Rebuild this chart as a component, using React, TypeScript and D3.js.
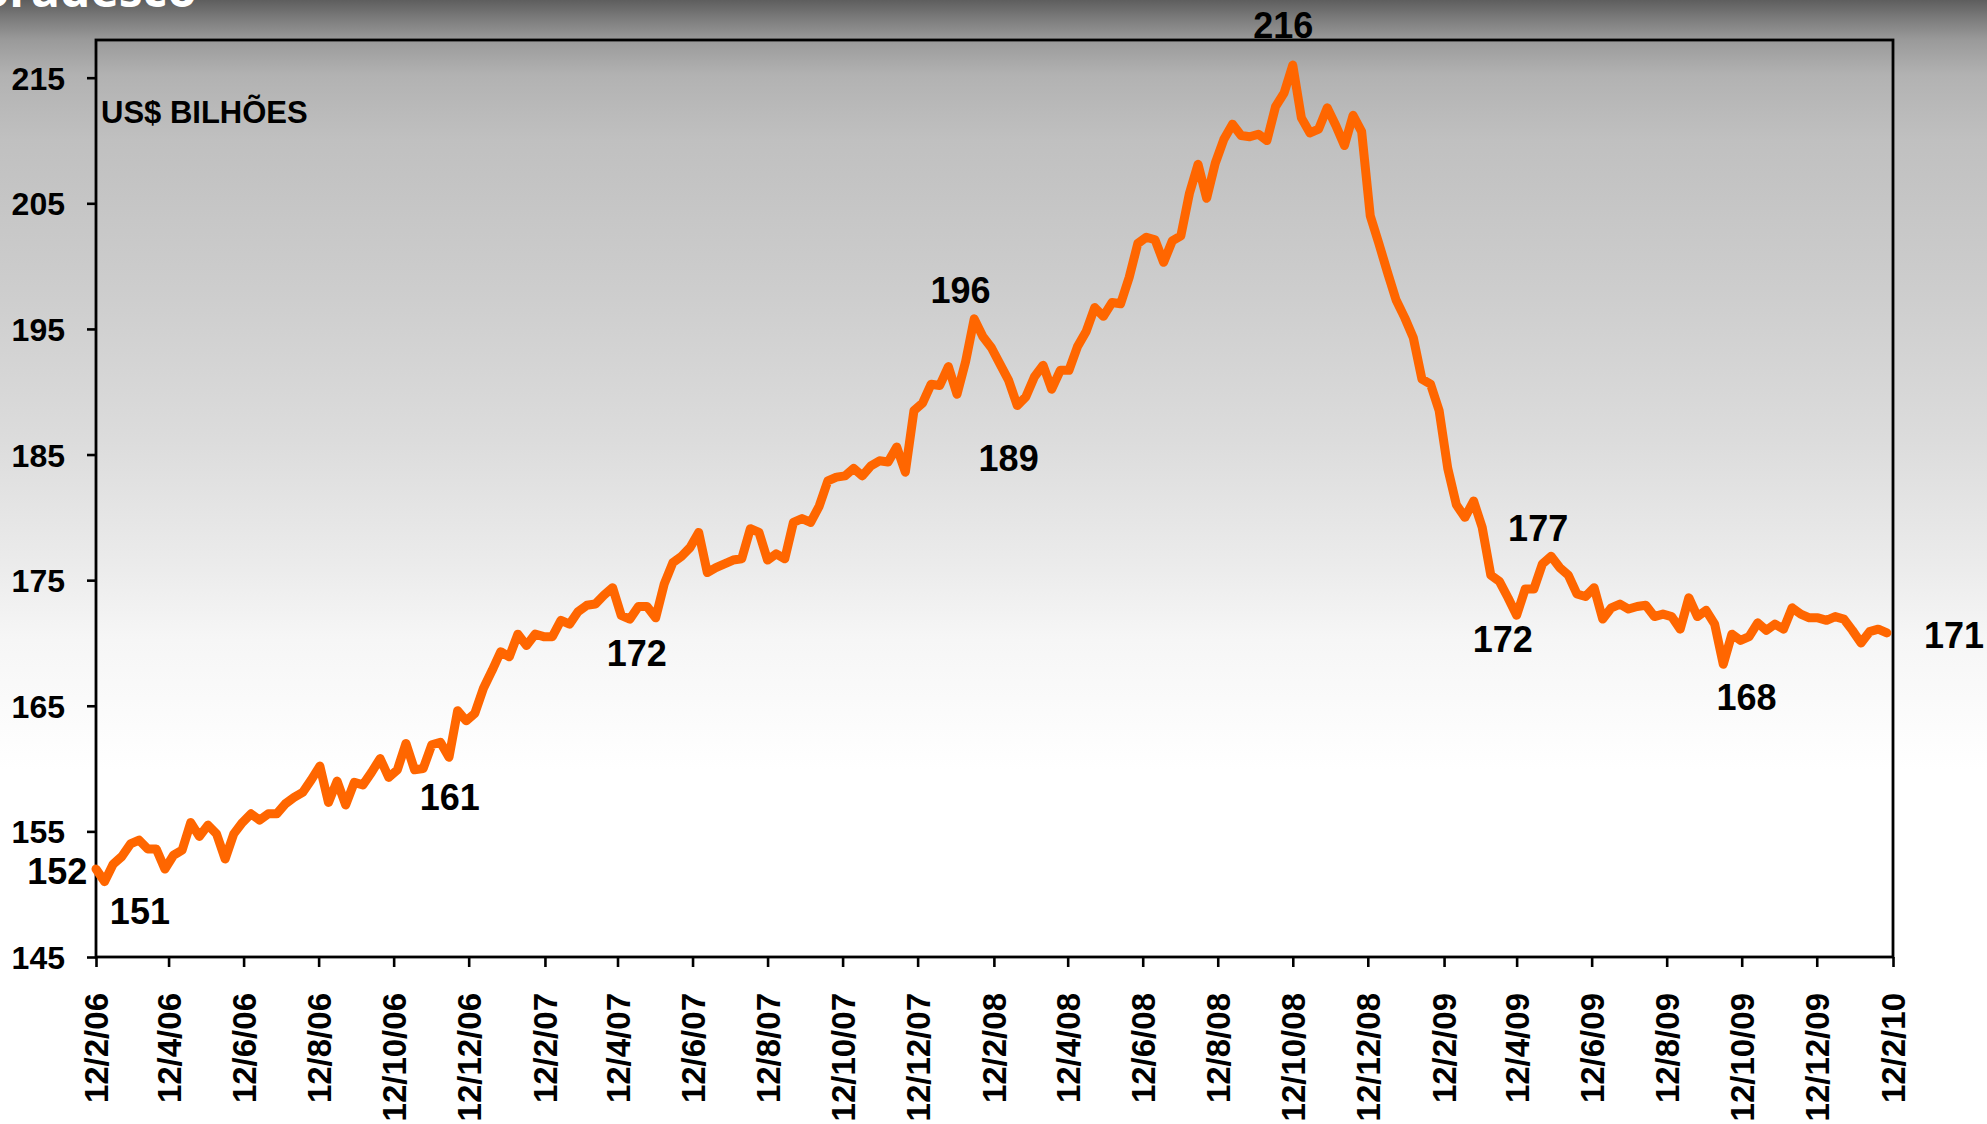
import React, { useRef, useEffect } from 'react';
import * as d3 from 'd3';

// weekly readings, US$ billions, first week = 12/2/06
const weeklyValues: number[] = [
  152.0, 151.0, 152.4, 153.0, 154.0, 154.3, 153.6, 153.6, 152.0, 153.1,
  153.5, 155.7, 154.6, 155.5, 154.8, 152.8, 154.8, 155.7, 156.4, 155.9,
  156.4, 156.4, 157.2, 157.7, 158.1, 159.1, 160.2, 157.3, 159.0, 157.1,
  158.9, 158.7, 159.7, 160.8, 159.3, 159.9, 162.0, 159.9, 160.0, 161.9,
  162.1, 160.9, 164.6, 163.8, 164.4, 166.4, 167.8, 169.3, 168.9, 170.7,
  169.8, 170.7, 170.5, 170.5, 171.8, 171.5, 172.5, 173.0, 173.1, 173.8,
  174.4, 172.2, 171.9, 172.9, 172.9, 172.0, 174.7, 176.4, 176.9, 177.6,
  178.8, 175.6, 176.0, 176.3, 176.6, 176.7, 179.1, 178.8, 176.6, 177.1,
  176.7, 179.6, 179.9, 179.6, 180.9, 182.9, 183.2, 183.3, 183.9, 183.3,
  184.1, 184.5, 184.4, 185.6, 183.6, 188.5, 189.1, 190.6, 190.5, 192.0,
  189.8, 192.4, 195.8, 194.4, 193.5, 192.2, 190.9, 188.9, 189.6, 191.2,
  192.1, 190.2, 191.7, 191.7, 193.6, 194.8, 196.7, 196.0, 197.1, 197.0,
  199.1, 201.8, 202.3, 202.1, 200.3, 202.0, 202.4, 205.8, 208.1, 205.4,
  208.2, 210.1, 211.3, 210.4, 210.3, 210.5, 210.0, 212.7, 213.8, 216.0,
  211.8, 210.6, 210.9, 212.6, 211.2, 209.6, 212.0, 210.7, 204.0, 201.8,
  199.5, 197.3, 195.9, 194.3, 191.0, 190.6, 188.5, 183.9, 181.0, 180.0,
  181.3, 179.2, 175.4, 174.9, 173.6, 172.2, 174.3, 174.3, 176.3, 176.9,
  176.0, 175.4, 173.9, 173.7, 174.4, 171.9, 172.8, 173.1, 172.7, 172.9,
  173.0, 172.1, 172.3, 172.1, 171.1, 173.6, 172.1, 172.6, 171.5, 168.3,
  170.7, 170.2, 170.5, 171.6, 171.0, 171.5, 171.1, 172.8, 172.3, 172.0,
  172.0, 171.8, 172.1, 171.9, 171.0, 170.0, 170.9, 171.1, 170.8,
];

const xTickLabels: string[] = [
  '12/2/06', '12/4/06', '12/6/06', '12/8/06', '12/10/06', '12/12/06',
  '12/2/07', '12/4/07', '12/6/07', '12/8/07', '12/10/07', '12/12/07',
  '12/2/08', '12/4/08', '12/6/08', '12/8/08', '12/10/08', '12/12/08',
  '12/2/09', '12/4/09', '12/6/09', '12/8/09', '12/10/09', '12/12/09',
  '12/2/10',
];

const yTicks: number[] = [145, 155, 165, 175, 185, 195, 205, 215];
const yDomain: [number, number] = [145, 218];

// highlighted values: text, week index, value level where the text sits
const labelTexts: string[] = ['152', '151', '161', '172', '196', '189', '216', '172', '177', '168', '171'];
const labelWeeks: number[] = [-4.5, 5.1, 41.1, 62.8, 100.4, 106.0, 137.9, 163.4, 167.5, 191.7, 215.8];
const labelLevels: number[] = [150.8, 147.6, 156.7, 168.2, 197.1, 183.7, 218.2, 169.3, 178.1, 164.7, 169.6];

const FONT = '"Liberation Sans", Arial, sans-serif';

const App: React.FC = () => {
  const svgRef = useRef<SVGSVGElement | null>(null);

  useEffect(() => {
    if (!svgRef.current) return;
    const width = 1987;
    const height = 1124;
    const margin = { top: 40, right: 94, bottom: 167, left: 96 };
    const innerWidth = width - margin.left - margin.right;
    const innerHeight = height - margin.top - margin.bottom;

    const svg = d3.select(svgRef.current);
    svg.selectAll('*').remove();

    const parse = d3.utcParse('%d/%m/%y');
    const tickDates = xTickLabels.map(l => parse(l) as Date);
    const start = tickDates[0];
    const weekDate = (w: number) => new Date(start.getTime() + w * 7 * 86400000);

    const xScale = d3.scaleUtc()
                     .domain([tickDates[0], tickDates[tickDates.length - 1]])
                     .range([0, innerWidth]);
    const yScale = d3.scaleLinear().domain(yDomain).range([innerHeight, 0]);

    // page background gradient
    const defs = svg.append('defs');
    const grad = defs.append('linearGradient')
                     .attr('id', 'bg')
                     .attr('gradientUnits', 'userSpaceOnUse')
                     .attr('x1', 0).attr('y1', 0).attr('x2', 0).attr('y2', height);
    const stops: [number, string][] = [
      [0, '#5e5e5e'], [20, '#7e7e7e'], [40, '#9a9a9a'], [75, '#b2b2b2'],
      [140, '#c0c0c0'], [300, '#cecece'], [440, '#dcdcdc'], [570, '#ececec'],
      [640, '#f6f6f6'], [770, '#ffffff'], [height, '#ffffff'],
    ];
    stops.forEach(([y, c]) => grad.append('stop').attr('offset', y / height).attr('stop-color', c));

    svg.append('rect').attr('width', width).attr('height', height).attr('fill', 'url(#bg)');

    svg.append('text')
       .attr('x', 197).attr('y', 7)
       .attr('text-anchor', 'end')
       .attr('font-family', '"Open Sans", sans-serif')
       .attr('font-weight', 700)
       .attr('font-size', 48)
       .attr('fill', '#ffffff')
       .text('Bradesco');

    const g = svg.append('g').attr('transform', `translate(${margin.left}, ${margin.top})`);

    // y axis
    const yAxisG = g.append('g')
                    .call(d3.axisLeft(yScale).tickValues(yTicks).tickSize(9).tickPadding(22).tickFormat(d3.format('d')));
    yAxisG.select('.domain').remove();
    yAxisG.selectAll('.tick line').attr('stroke', '#000').attr('stroke-width', 2.6);
    yAxisG.selectAll('.tick text')
          .attr('font-family', FONT).attr('font-weight', 700).attr('font-size', 32)
          .attr('fill', '#000').attr('dy', '0.36em');

    // x axis
    const xAxisG = g.append('g')
                    .attr('transform', `translate(0, ${innerHeight})`)
                    .call(d3.axisBottom(xScale).tickValues(tickDates).tickSize(10)
                      .tickFormat((_d, i) => xTickLabels[i]));
    xAxisG.select('.domain').remove();
    xAxisG.selectAll('.tick line').attr('stroke', '#000').attr('stroke-width', 2.6);
    xAxisG.selectAll('.tick text')
          .attr('font-family', FONT).attr('font-weight', 700).attr('font-size', 33)
          .attr('fill', '#000')
          .attr('transform', 'rotate(-90)')
          .attr('text-anchor', 'end')
          .attr('x', -36).attr('y', 0).attr('dy', '0.36em');

    // frame
    g.append('rect')
     .attr('width', innerWidth).attr('height', innerHeight)
     .attr('fill', 'none').attr('stroke', '#000').attr('stroke-width', 2.8);

    g.append('text')
     .attr('x', 5).attr('y', 83)
     .attr('font-family', FONT).attr('font-weight', 700).attr('font-size', 31)
     .attr('fill', '#000')
     .text('US$ BILHÕES');

    const line = d3.line<number>()
                   .x((_d, i) => xScale(weekDate(i)))
                   .y(d => yScale(d));

    g.append('path')
     .datum(weeklyValues)
     .attr('fill', 'none')
     .attr('stroke', '#ff6600')
     .attr('stroke-width', 9)
     .attr('stroke-linejoin', 'round')
     .attr('stroke-linecap', 'round')
     .attr('d', line);

    g.selectAll('.val-label')
     .data(labelTexts)
     .enter()
     .append('text')
     .attr('class', 'val-label')
     .attr('x', (_d, i) => xScale(weekDate(labelWeeks[i])))
     .attr('y', (_d, i) => yScale(labelLevels[i]))
     .attr('text-anchor', 'middle')
     .attr('font-family', FONT).attr('font-weight', 700).attr('font-size', 36)
     .attr('fill', '#000')
     .text(d => d);
  }, []);

  return (
    <div style={{ position: 'absolute', left: 0, top: 0 }}>
      <svg ref={svgRef} width={1987} height={1124} style={{ display: 'block' }}></svg>
    </div>
  );
};

export default App;
